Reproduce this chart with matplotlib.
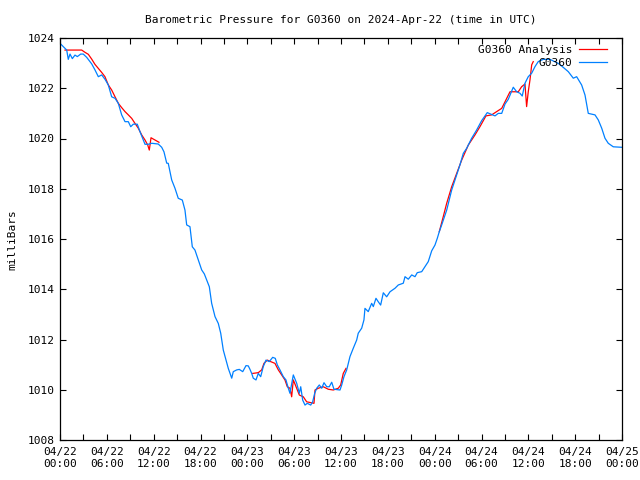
import matplotlib
matplotlib.use("Agg")
import matplotlib.pyplot as plt
import numpy as np

# Hours since 2024-04-22 00:00 UTC and pressure (millibars)
obs_hours = [0.09, 0.86, 1.06, 1.28, 1.58, 1.92, 2.22, 2.65, 2.98, 3.42, 4.06, 4.48, 4.91, 5.34, 5.76,
             6.19, 6.62, 7.05, 7.47, 7.90, 8.33, 8.75, 9.06, 9.39, 9.90, 10.25, 10.67, 10.89, 11.31, 11.75,
             12.59, 13.03, 13.32, 13.67, 13.87, 14.31, 14.73, 15.15, 15.67, 16.01, 16.23, 16.65, 16.95, 17.29,
             17.72, 18.15, 18.49, 18.79, 19.13, 19.43, 19.86, 20.28, 20.59, 20.92, 21.27, 21.56, 22.00, 22.20,
             22.64, 22.97, 23.41, 23.83, 24.12, 24.34, 24.56, 24.76, 25.11, 25.40, 25.71, 26.04, 26.39, 26.81,
             27.25, 27.58, 27.84, 28.18, 28.61, 28.95, 29.25, 29.46, 29.89, 30.32, 30.66, 30.84, 31.09, 31.39,
             31.68, 32.12, 32.37, 32.63, 32.89, 33.22, 33.53, 33.82, 34.17, 34.50, 34.81, 35.10, 35.87, 36.09,
             36.38, 36.73, 37.15, 37.57, 38.01, 38.21, 38.65, 38.94, 39.07, 39.49, 39.93, 40.14, 40.48, 40.78,
             41.08, 41.42, 41.85, 42.28, 42.92, 43.34, 43.98, 44.20, 44.62, 45.06, 45.48, 45.77, 46.34, 46.76,
             47.18, 47.62, 48.04, 48.34, 48.59, 48.90, 49.54, 50.18, 50.60, 51.24, 51.67, 52.10, 52.74, 53.38,
             54.02, 54.74, 55.73, 56.15, 56.59, 57.01, 57.43, 58.07, 58.51, 58.93, 59.22, 59.57, 59.99, 60.43,
             60.85, 61.27, 61.91, 62.77, 63.84, 64.48, 65.12, 65.76, 66.19, 66.83, 67.26, 67.68, 68.54, 68.96,
             69.40, 69.82, 70.24, 70.88, 71.96]
obs_mb = [1023.76, 1023.52, 1023.15, 1023.36, 1023.18, 1023.32, 1023.26, 1023.36, 1023.36, 1023.23, 1022.97,
          1022.73, 1022.46, 1022.53, 1022.36, 1022.13, 1021.66, 1021.60, 1021.40, 1020.94, 1020.67, 1020.67,
          1020.47, 1020.57, 1020.57, 1020.27, 1019.94, 1019.77, 1019.77, 1019.81, 1019.78, 1019.65, 1019.47,
          1019.02, 1019.01, 1018.35, 1018.02, 1017.62, 1017.55, 1017.15, 1016.56, 1016.49, 1015.69, 1015.56,
          1015.16, 1014.77, 1014.61, 1014.37, 1014.10, 1013.44, 1012.91, 1012.64, 1012.25, 1011.58, 1011.18,
          1010.85, 1010.46, 1010.72, 1010.79, 1010.81, 1010.72, 1010.96, 1010.95, 1010.81, 1010.65, 1010.46,
          1010.39, 1010.65, 1010.52, 1010.92, 1011.18, 1011.12, 1011.29, 1011.25, 1010.99, 1010.79, 1010.52,
          1010.39, 1010.06, 1009.86, 1010.59, 1010.26, 1009.86, 1010.12, 1009.59, 1009.39, 1009.46, 1009.39,
          1009.52, 1009.86, 1010.06, 1010.19, 1010.06, 1010.28, 1010.12, 1010.12, 1010.30, 1010.02, 1009.99,
          1010.19, 1010.52, 1010.79, 1011.32, 1011.65, 1011.98, 1012.25, 1012.45, 1012.78, 1013.24, 1013.11,
          1013.44, 1013.31, 1013.64, 1013.50, 1013.37, 1013.86, 1013.70, 1013.90, 1014.04, 1014.17, 1014.24,
          1014.50, 1014.40, 1014.57, 1014.50, 1014.66, 1014.70, 1014.90, 1015.10, 1015.53, 1015.76, 1016.03,
          1016.29, 1016.56, 1017.15, 1017.95, 1018.35, 1018.95, 1019.41, 1019.61, 1020.01, 1020.34, 1020.71,
          1021.03, 1020.90, 1021.00, 1021.00, 1021.37, 1021.56, 1022.04, 1021.86, 1021.80, 1021.69, 1022.20,
          1022.46, 1022.60, 1022.86, 1023.06, 1023.15, 1023.15, 1022.99, 1022.83, 1022.66, 1022.40, 1022.46,
          1022.13, 1021.73, 1021.00, 1020.94, 1020.74, 1020.41, 1020.01, 1019.81, 1019.67, 1019.65]

# Analysis series: three separate segments
ana1_hours = [0.64, 2.78, 3.20, 3.63, 4.06, 4.48, 4.91, 5.34, 5.76, 6.19, 6.62, 7.05, 7.47, 7.90, 8.33,
              8.75, 9.19, 9.61, 10.03, 10.47, 10.89, 11.24, 11.44, 11.66, 12.17, 12.68]
ana1_mb = [1023.52, 1023.52, 1023.43, 1023.35, 1023.16, 1022.95, 1022.79, 1022.63, 1022.46, 1022.13,
           1021.93, 1021.66, 1021.40, 1021.23, 1021.07, 1020.94, 1020.80, 1020.60, 1020.41, 1020.14,
           1019.94, 1019.74, 1019.54, 1020.03, 1019.94, 1019.85]
ana2_hours = [24.69, 25.40, 25.84, 26.13, 26.56, 26.99, 27.54, 27.97, 28.40, 28.82, 29.12, 29.46, 29.68,
              29.89, 30.32, 30.66, 31.17, 31.60, 32.24, 32.54, 32.67, 33.09, 33.73, 34.37, 35.01, 35.65,
              35.96, 36.29, 36.64]
ana2_mb = [1010.65, 1010.68, 1010.79, 1011.05, 1011.18, 1011.12, 1011.05, 1010.79, 1010.59, 1010.39,
           1010.12, 1010.06, 1009.72, 1010.39, 1010.06, 1009.79, 1009.72, 1009.52, 1009.48, 1009.46,
           1009.99, 1010.06, 1010.12, 1010.02, 1009.99, 1010.06, 1010.19, 1010.65, 1010.85]
ana3_hours = [48.59, 49.10, 49.54, 50.18, 50.82, 51.46, 52.31, 53.16, 53.80, 54.57, 55.30, 55.94, 56.59,
              57.01, 57.65, 58.07, 58.71, 59.14, 59.57, 59.78, 59.99, 60.21, 60.43, 60.63]
ana3_mb = [1016.29, 1016.89, 1017.42, 1018.08, 1018.61, 1019.14, 1019.74, 1020.14, 1020.47, 1020.90,
           1020.94, 1021.07, 1021.20, 1021.46, 1021.86, 1021.86, 1021.86, 1022.06, 1022.17, 1021.27,
           1021.86, 1022.33, 1022.93, 1023.06]

xtick_hours = [0, 6, 12, 18, 24, 30, 36, 42, 48, 54, 60, 66, 72]
xtick_labels = ["04/22\n00:00", "04/22\n06:00", "04/22\n12:00", "04/22\n18:00",
                "04/23\n00:00", "04/23\n06:00", "04/23\n12:00", "04/23\n18:00",
                "04/24\n00:00", "04/24\n06:00", "04/24\n12:00", "04/24\n18:00",
                "04/25\n00:00"]
ytick_values = [1008, 1010, 1012, 1014, 1016, 1018, 1020, 1022, 1024]

plt.rcParams['font.family'] = ['DejaVu Sans Mono']
fig = plt.figure(figsize=(6.4, 4.8), dpi=100)
ax = fig.add_axes([60/640, 1-440/480, 562/640, 402/480])

RED = '#ff0000'
BLUE = '#0080ff'
LW = 0.9
ax.plot(ana1_hours, ana1_mb, color=RED, lw=LW, label='G0360 Analysis')
ax.plot(ana2_hours, ana2_mb, color=RED, lw=LW)
ax.plot(ana3_hours, ana3_mb, color=RED, lw=LW)
ax.plot(obs_hours, obs_mb, color=BLUE, lw=LW, label='G0360')

ax.set_xlim(0, 72)
ax.set_ylim(1008, 1024)

minor_x = np.arange(0, 73, 3)
ax.set_xticks(minor_x)
ax.set_xticklabels([xtick_labels[xtick_hours.index(h)] if h in xtick_hours else '' for h in minor_x])
ax.set_yticks(ytick_values)
ax.set_yticklabels([str(v) for v in ytick_values])
ax.tick_params(direction='in', length=4, width=0.8, top=True, right=True, labelsize=8, color='black')
ax.tick_params(axis='x', pad=5)
ax.tick_params(axis='y', pad=4)
for s in ax.spines.values():
    s.set_linewidth(0.9)

fig.text(341/640, 1-20/480, 'Barometric Pressure for G0360 on 2024-Apr-22 (time in UTC)',
         ha='center', va='center', fontsize=8)
fig.text(12/640, 1-240/480, 'milliBars', rotation=90, ha='center', va='center', fontsize=8)

leg = ax.legend(loc='upper right', frameon=False, markerfirst=False, fontsize=8,
                handlelength=2.5, borderaxespad=0.2, labelspacing=0.3, handletextpad=0.6,
                bbox_to_anchor=(0.985, 1.0))
for t in leg.get_texts():
    t.set_ha('right')

fig.savefig('out.png', dpi=100)
